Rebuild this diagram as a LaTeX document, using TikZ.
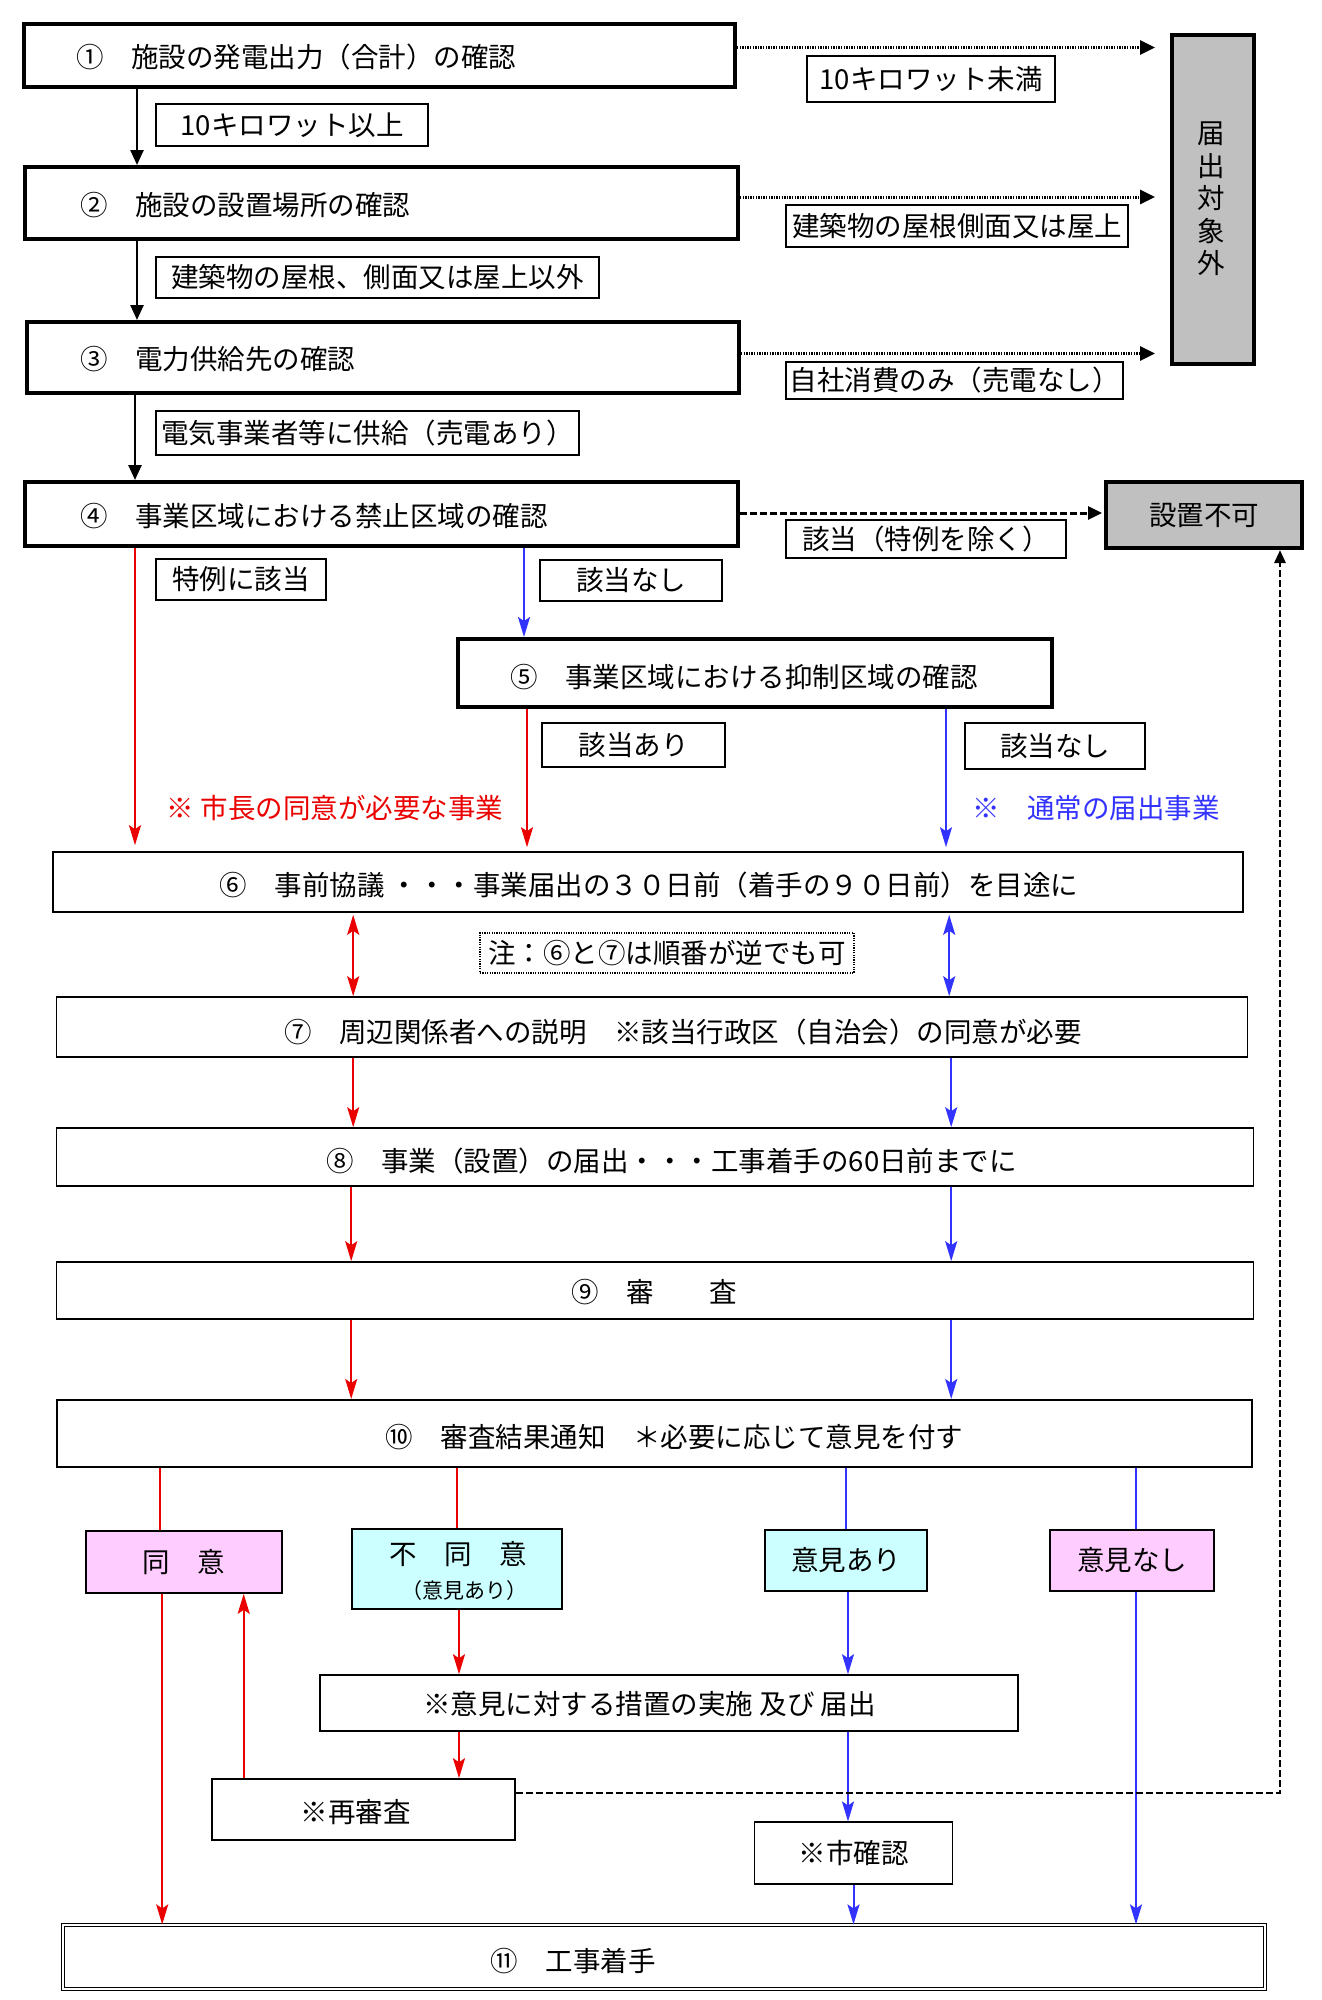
\documentclass[tikz,border=0pt]{standalone}
\usepackage{fontspec}
\setmainfont{Noto Sans CJK JP}
\usetikzlibrary{arrows.meta}
\definecolor{myred}{RGB}{235,0,0}
\definecolor{myblue}{RGB}{51,51,255}
\definecolor{mygray}{RGB}{192,192,192}
\definecolor{mypink}{RGB}{255,204,255}
\definecolor{mycyan}{RGB}{204,255,255}
\begin{document}
\begin{tikzpicture}[x=1pt,y=-1pt,
  every node/.style={inner sep=0pt, font=\fontsize{27.5pt}{32.5pt}\selectfont},
  thickbox/.style={draw, line width=4pt, fill=white},
  thinbox/.style={draw, line width=1.6pt, fill=white},
  lbl/.style={draw, line width=1.3pt, fill=white},
  blk/.style={line width=2.5pt, -{Triangle[length=15pt,width=13pt]}},
  dotar/.style={line width=3pt, dash pattern=on 1.3pt off 1.3pt, -{Triangle[length=15pt,width=14pt]}, shorten >=15pt},
  dasharr/.style={line width=3pt, dash pattern=on 7pt off 3pt, -{Triangle[length=14pt,width=13pt]}, shorten >=2pt},
  dashret/.style={line width=2.8pt, dash pattern=on 7pt off 3pt, -{Triangle[length=13pt,width=11pt]}},
  redln/.style={myred, line width=2pt},
  redar/.style={myred, line width=2pt, -{Stealth[length=20pt,width=12pt,inset=4pt]}},
  redboth/.style={myred, line width=2pt, {Stealth[length=20pt,width=12pt,inset=4pt]}-{Stealth[length=20pt,width=12pt,inset=4pt]}},
  blueln/.style={myblue, line width=2pt},
  bluear/.style={myblue, line width=2pt, -{Stealth[length=20pt,width=12pt,inset=4pt]}},
  blueboth/.style={myblue, line width=2pt, {Stealth[length=20pt,width=12pt,inset=4pt]}-{Stealth[length=20pt,width=12pt,inset=4pt]}},
]
\useasboundingbox[fill=white] (0,0) rectangle (1322,2000);

% main check boxes
\node[thickbox, minimum width=711pt, minimum height=63pt] (b1) at (379.5,55.5) {};
\node[anchor=west] (t1) at (76,57) {①　施設の発電出力（合計）の確認};
\node[thickbox, minimum width=713pt, minimum height=72pt] (b2) at (381.5,203) {};
\node[anchor=west] (t2) at (80,205) {②　施設の設置場所の確認};
\node[thickbox, minimum width=712pt, minimum height=71pt] (b3) at (383,357.5) {};
\node[anchor=west] (t3) at (80,359) {③　電力供給先の確認};
\node[thickbox, minimum width=713pt, minimum height=64pt] (b4) at (381.5,514) {};
\node[anchor=west] (t4) at (80,516) {④　事業区域における禁止区域の確認};
\node[thickbox, minimum width=594pt, minimum height=68pt] (b5) at (755,673) {};
\node[anchor=west] (t5) at (510,677) {⑤　事業区域における抑制区域の確認};

% gray result boxes
\node[thickbox, fill=mygray, minimum width=82pt, minimum height=329pt] (todoke) at (1213,199.5) {};
\node[align=center] (todoketxt) at (1211,199) {届\\出\\対\\象\\外};
\node[thickbox, fill=mygray, minimum width=196pt, minimum height=66pt] (fuka) at (1204,515) {設置不可};

% labels on left arrows
\node[lbl, minimum width=272pt, minimum height=42pt] (L1) at (292,125) {10キロワット以上};
\node[lbl, minimum width=443pt, minimum height=41pt] (L2) at (377.5,277.5) {建築物の屋根、側面又は屋上以外};
\node[lbl, minimum width=423pt, minimum height=44pt] (L3) at (367.5,433) {電気事業者等に供給（売電あり）};
% labels on right arrows
\node[lbl, minimum width=248pt, minimum height=46pt] (R1) at (931,79) {10キロワット未満};
\node[lbl, minimum width=342pt, minimum height=42pt] (R2) at (957,226) {建築物の屋根側面又は屋上};
\node[lbl, minimum width=337pt, minimum height=37pt] (R3) at (954.5,380.5) {自社消費のみ（売電なし）};
\node[lbl, minimum width=280pt, minimum height=38pt] (R4) at (926,539) {該当（特例を除く）};
\node[lbl, minimum width=170pt, minimum height=41pt] (L4) at (241,579.5) {特例に該当};
\node[lbl, minimum width=182pt, minimum height=41pt] (L5) at (631,580.5) {該当なし};
\node[lbl, minimum width=183pt, minimum height=44pt] (L6) at (633.5,745) {該当あり};
\node[lbl, minimum width=180pt, minimum height=46pt] (L7) at (1055,746) {該当なし};

\node[text=myred] (redtxt) at (335,808) {※ 市長の同意が必要な事業};
\node[text=myblue] (bluetxt) at (1096,808) {※　通常の届出事業};

% procedure boxes
\node[thinbox, minimum width=1190pt, minimum height=60pt] (b6) at (648,882) {};
\node (t6) at (649,885) {⑥　事前協議 ・・・事業届出の３０日前（着手の９０日前）を目途に};
\node[draw, line width=1.3pt, dash pattern=on 1.2pt off 1.2pt, fill=white, minimum width=374pt, minimum height=40pt] (note) at (667,953) {注：⑥と⑦は順番が逆でも可};
\node[thinbox, minimum width=1191pt, minimum height=60pt] (b7) at (652,1027) {};
\node (t7) at (683,1032) {⑦　周辺関係者への説明　※該当行政区（自治会）の同意が必要};
\node[thinbox, minimum width=1197pt, minimum height=58pt] (b8) at (655,1157) {};
\node (t8) at (671.5,1161) {⑧　事業（設置）の届出・・・工事着手の60日前までに};
\node[thinbox, minimum width=1197pt, minimum height=57pt] (b9) at (655,1290.5) {};
\node (t9) at (654,1292) {⑨　審　　査};
\node[thinbox, line width=2pt, minimum width=1195pt, minimum height=67pt] (b10) at (654,1433.5) {};
\node (t10) at (674.5,1437) {⑩　審査結果通知　＊必要に応じて意見を付す};

% result branches
\node[thinbox, fill=mypink, minimum width=196pt, minimum height=62pt] (doui) at (184,1562) {同　意};
\node[thinbox, fill=mycyan, minimum width=210pt, minimum height=80pt] (fudoui) at (457,1569) {};
\node (tfu1) at (458,1554) {不　同　意};
\node[font=\fontsize{21pt}{24pt}\selectfont] (tfu2) at (464,1590) {（意見あり）};
\node[thinbox, fill=mycyan, minimum width=162pt, minimum height=61pt] (ariA) at (846,1560.5) {意見あり};
\node[thinbox, fill=mypink, minimum width=164pt, minimum height=61pt] (nashi) at (1132,1560.5) {意見なし};
\node[thinbox, minimum width=698pt, minimum height=56pt] (sochi) at (669,1703) {};
\node (tsochi) at (649.5,1704) {※意見に対する措置の実施 及び 届出};
\node[thinbox, minimum width=303pt, minimum height=61pt] (shinsa) at (363.5,1809.5) {};
\node (tshinsa) at (355.5,1812) {※再審査};
\node[thinbox, minimum width=198pt, minimum height=61.5pt] (kakunin) at (853.5,1853) {※市確認};
\node[draw, double, double distance=2.5pt, line width=1.2pt, fill=white, minimum width=1202pt, minimum height=64pt] (b11) at (664,1957) {};
\node (t11) at (573,1961) {⑪　工事着手};

% black arrows
\draw[blk] ([xshift=115pt]b1.south west) -- ([xshift=114pt]b2.north west);
\draw[blk] ([xshift=114pt]b2.south west) -- ([xshift=112pt]b3.north west);
\draw[blk] ([xshift=110pt]b3.south west) -- ([xshift=112pt]b4.north west);

% dotted arrows to todoke
\coordinate (s1) at ([yshift=8pt]b1.east);
\coordinate (s2) at ([yshift=6pt]b2.east);
\coordinate (s3) at ([yshift=4pt]b3.east);
\coordinate (s4) at ([yshift=1pt]b4.east);
\draw[dotar] (s1) -- (s1 -| todoke.west);
\draw[dotar] (s2) -- (s2 -| todoke.west);
\draw[dotar] (s3) -- (s3 -| todoke.west);
\draw[dasharr] (s4) -- (s4 -| fuka.west);

% from b4 and b5
\coordinate (r1) at ([xshift=112pt]b4.south west);
\draw[redar, shorten >=6pt] (r1) -- (r1 |- b6.north);
\coordinate (u1) at ([xshift=501pt]b4.south west);
\draw[bluear] (u1) -- (u1 |- b5.north);
\coordinate (r2) at ([xshift=71pt]b5.south west);
\draw[redar, shorten >=4pt] (r2) -- (r2 |- b6.north);
\coordinate (u2) at ([xshift=490pt]b5.south west);
\draw[bluear, shorten >=4pt] (u2) -- (u2 |- b6.north);

% b6 to b10
\coordinate (r3) at ([xshift=301pt]b6.south west);
\draw[redboth, shorten <=2pt] (r3) -- (r3 |- b7.north);
\coordinate (u3) at ([xshift=897pt]b6.south west);
\draw[blueboth, shorten <=2pt] (u3) -- (u3 |- b7.north);
\coordinate (r4) at ([xshift=297.5pt]b7.south west);
\draw[redar] (r4) -- (r4 |- b8.north);
\coordinate (u4) at ([xshift=895.5pt]b7.south west);
\draw[bluear] (u4) -- (u4 |- b8.north);
\coordinate (r5) at ([xshift=295.5pt]b8.south west);
\draw[redar] (r5) -- (r5 |- b9.north);
\coordinate (u5) at ([xshift=895.5pt]b8.south west);
\draw[bluear] (u5) -- (u5 |- b9.north);
\coordinate (r6) at ([xshift=295.5pt]b9.south west);
\draw[redar] (r6) -- (r6 |- b10.north);
\coordinate (u6) at ([xshift=895.5pt]b9.south west);
\draw[bluear] (u6) -- (u6 |- b10.north);

% result branches
\coordinate (d1) at ([xshift=75pt]doui.north west);
\draw[redln] (d1 |- b10.south) -- (d1);
\coordinate (d2) at ([xshift=77pt]doui.south west);
\draw[redar] (d2) -- (d2 |- b11.north);
\draw[redln] (fudoui.north |- b10.south) -- (fudoui.north);
\coordinate (f1) at ([xshift=2pt]fudoui.south);
\draw[redar] (f1) -- (f1 |- sochi.north);
\draw[redar] (f1 |- sochi.south) -- (f1 |- shinsa.north);
\coordinate (sh) at ([xshift=32.5pt]shinsa.north west);
\draw[redar] (sh) -- (sh |- doui.south);
\draw[blueln] (ariA.north |- b10.south) -- (ariA.north);
\coordinate (a1) at ([xshift=2pt]ariA.south);
\draw[bluear] (a1) -- (a1 |- sochi.north);
\draw[bluear] (a1 |- sochi.south) -- (a1 |- kakunin.north);
\draw[bluear] (kakunin.south) -- (kakunin.south |- b11.north);
\coordinate (n1) at ([xshift=4pt]nashi.north);
\draw[blueln] (n1 |- b10.south) -- (n1);
\draw[bluear] (n1 |- nashi.south) -- (n1 |- b11.north);

% dashed return
\coordinate (ds) at ([yshift=16.5pt]shinsa.east);
\coordinate (dc) at (1280,1793);
\draw[dashret] (ds) -- (ds -| dc) -- (dc |- fuka.south);
\end{tikzpicture}
\end{document}
